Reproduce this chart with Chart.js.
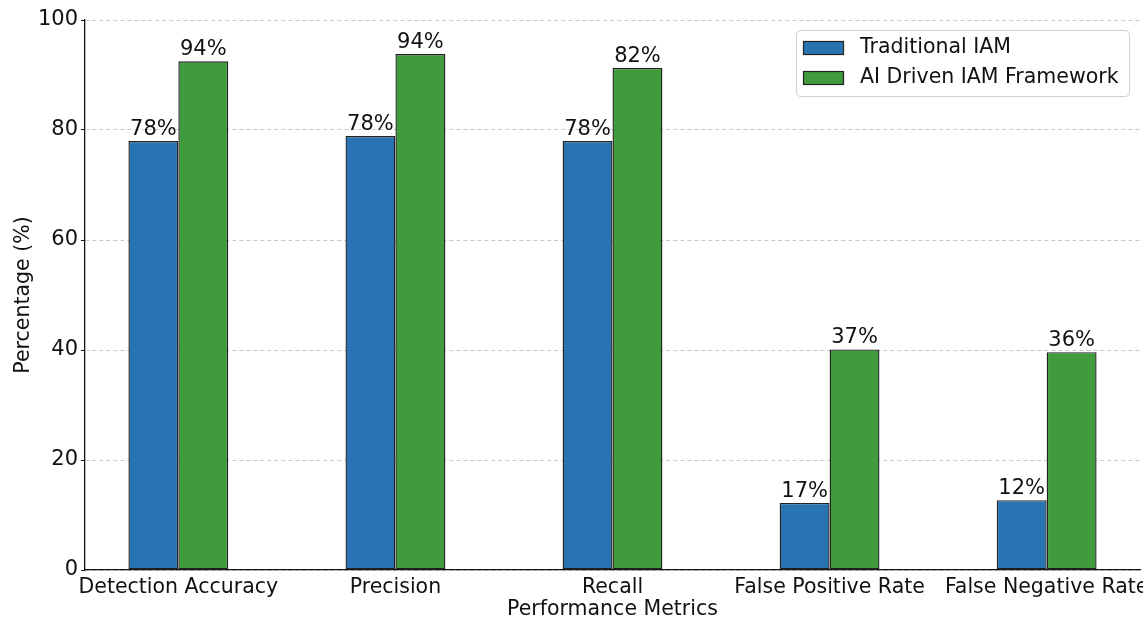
<!DOCTYPE html>
<html>
<head>
<meta charset="utf-8">
<script src="https://cdn.jsdelivr.net/npm/chart.js@4"></script>
<style>
  html, body { margin: 0; padding: 0; background: #fff; }
  #wrap { width: 1143px; height: 622px; }
</style>
</head>
<body>
<div id="wrap"><canvas id="iamChart" width="1143" height="622"></canvas></div>
<script>
const categories = ["Detection Accuracy", "Precision", "Recall", "False Positive Rate", "False Negative Rate"];
const traditionalValues = [78, 78.9, 78, 12.2, 12.7];
const aiDrivenValues = [92.5, 93.8, 91.3, 40.1, 39.6];
const traditionalLabels = ["78%", "78%", "78%", "17%", "12%"];
const aiDrivenLabels = ["94%", "94%", "82%", "37%", "36%"];
const yTicks = [0, 20, 40, 60, 80, 100];

const FONT = "'DejaVu Sans', sans-serif";

// value labels drawn above each bar
const barLabels = {
  id: "barLabels",
  afterDatasetsDraw(chart) {
    const ctx = chart.ctx;
    const texts = [traditionalLabels, aiDrivenLabels];
    ctx.save();
    ctx.font = "21px " + FONT;
    ctx.fillStyle = "#111";
    ctx.textAlign = "center";
    ctx.textBaseline = "bottom";
    chart.data.datasets.forEach((ds, di) => {
      chart.getDatasetMeta(di).data.forEach((bar, i) => {
        ctx.fillText(texts[di][i], bar.x, bar.y - 1);
      });
    });
    ctx.restore();
  },
};

// matplotlib-like legend box inside the plot
const boxLegend = {
  id: "boxLegend",
  afterDraw(chart) {
    const ctx = chart.ctx;
    const x = 796, y = 30, w = 333, h = 66;
    ctx.save();
    ctx.fillStyle = "rgba(255,255,255,0.9)";
    ctx.strokeStyle = "#d0d0d0";
    ctx.lineWidth = 1;
    ctx.beginPath();
    ctx.roundRect(x + 0.5, y + 0.5, w, h, 4);
    ctx.fill();
    ctx.stroke();
    ctx.font = "20.5px " + FONT;
    ctx.textBaseline = "middle";
    chart.data.datasets.forEach((ds, i) => {
      const ry = y + 17 + i * 30;
      ctx.fillStyle = ds.backgroundColor;
      ctx.fillRect(x + 7, ry - 6, 40, 13);
      ctx.strokeStyle = "#222";
      ctx.lineWidth = 1.2;
      ctx.strokeRect(x + 7.5, ry - 5.5, 40, 13);
      ctx.fillStyle = "#111";
      ctx.fillText(ds.label, x + 64, ry + 1);
    });
    ctx.restore();
  },
};

new Chart(document.getElementById("iamChart").getContext("2d"), {
  type: "bar",
  data: {
    datasets: [
      {
        label: "Traditional IAM",
        data: traditionalValues.map((v, i) => ({ x: i, y: v })),
        backgroundColor: "#2874b2",
        borderColor: "#222",
        borderWidth: 1.4,
        borderSkipped: false,
        categoryPercentage: 0.46,
        barPercentage: 1.0,
      },
      {
        label: "AI Driven IAM Framework",
        data: aiDrivenValues.map((v, i) => ({ x: i, y: v })),
        backgroundColor: "#3f9b3b",
        borderColor: "#222",
        borderWidth: 1.4,
        borderSkipped: false,
        categoryPercentage: 0.46,
        barPercentage: 1.0,
      },
    ],
  },
  options: {
    responsive: false,
    animation: false,
    layout: { padding: { top: 20, right: 3, left: 11, bottom: 0 } },
    plugins: {
      legend: { display: false },
      tooltip: { enabled: false },
    },
    scales: {
      x: {
        type: "linear",
        min: -0.43,
        max: 4.43,
        offset: false,
        afterBuildTicks: (s) => { s.ticks = categories.map((c, i) => ({ value: i })); },
        afterFit: (s) => { s.height = 52; s.paddingLeft = 0; s.paddingRight = 0; },
        ticks: {
          callback: (v) => categories[v],
          font: { family: FONT, size: 20.5 },
          color: "#111",
          padding: -3,
          maxRotation: 0,
          autoSkip: false,
        },
        grid: { display: false },
        border: { display: true, color: "#111", width: 1.3 },
        title: {
          display: true,
          text: "Performance Metrics",
          font: { family: FONT, size: 20.5 },
          color: "#111",
          padding: { top: 6, bottom: 0 },
        },
      },
      y: {
        min: 0,
        max: 100,
        afterBuildTicks: (s) => { s.ticks = yTicks.map((v) => ({ value: v })); },
        afterFit: (s) => { s.width = 74; s.paddingTop = 0; s.paddingBottom = 0; },
        ticks: {
          font: { family: FONT, size: 21 },
          color: "#111",
          padding: 3,
        },
        grid: {
          color: "#c8c8c8",
          tickColor: "#111",
          tickLength: 4,
          tickBorderDash: [],
        },
        border: { display: true, color: "#111", width: 1.3, dash: [4, 3] },
        title: {
          display: true,
          text: "Percentage (%)",
          font: { family: FONT, size: 20.5 },
          color: "#111",
          padding: { top: 0, bottom: 0 },
        },
      },
    },
  },
  plugins: [barLabels, boxLegend],
});
</script>
</body>
</html>
